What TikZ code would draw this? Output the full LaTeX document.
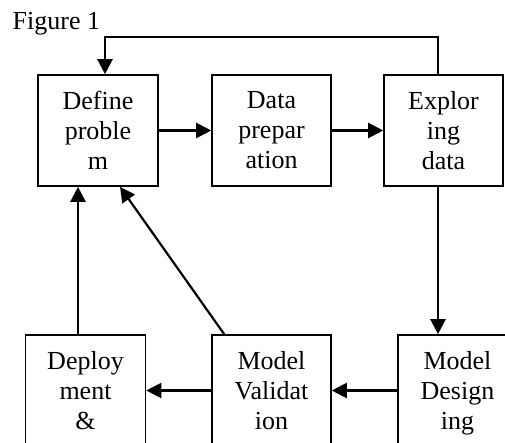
\documentclass[tikz,border=0pt]{standalone}
\usepackage{fontspec}
\setmainfont{Liberation Serif}
\usetikzlibrary{arrows.meta}
\begin{document}
\begin{tikzpicture}[x=1pt,y=-1pt,
  stagebox/.style={draw,line width=1.6pt,minimum width=119pt,minimum height=111pt,
    inner sep=0pt,align=center,font=\fontsize{26}{30}\selectfont},
  conn/.style={line width=2.2pt,-{Triangle[length=15pt,width=15pt]}}]
  \useasboundingbox (0,0) rectangle (505,443);
  \clip (0,0) rectangle (505,443);

  \node[anchor=base west,inner sep=0pt,font=\fontsize{26}{30}\selectfont] (title) at (12.5,30) {Figure 1};

  % top row
  \node[stagebox,minimum width=120pt] (def) at (98,130.5) {Define\\proble\\m};
  \node[stagebox] (dat) at (271.5,130.5) {Data\\prepar\\ation};
  \node[stagebox] (exp) at (443.5,130.5) {Explor\\ing\\data};

  % bottom row
  \node[stagebox,minimum width=120pt] (dep) at (85.5,390.5) {Deploy\\ment\\\&};
  \node[stagebox] (val) at (271.5,390.5) {Model\\Validat\\ion};
  \node[stagebox] (des) at (457.5,390.5) {Model\\Design\\\raisebox{0pt}[\height][0pt]{ing}};

  % forward flow
  \draw[conn] (def.east) -- (dat.west);
  \draw[conn] (dat.east) -- (exp.west);
  \draw[conn] ([xshift=-5.5]exp.south) -- ([xshift=-5.5]exp.south |- des.north);
  \draw[conn] (des.west) -- (val.east);
  \draw[conn] (val.west) -- (dep.east);

  % feedback loops
  \draw[conn] ([xshift=-5.5]exp.north) -- ++(0,-37) -| ([xshift=7]def.north);
  \draw[conn] ([xshift=-7.5]dep.north) -- ([xshift=-7.5]dep.north |- def.south);
  \draw[conn] ([xshift=13]val.north west) -- ([xshift=22]def.south);
\end{tikzpicture}
\end{document}
